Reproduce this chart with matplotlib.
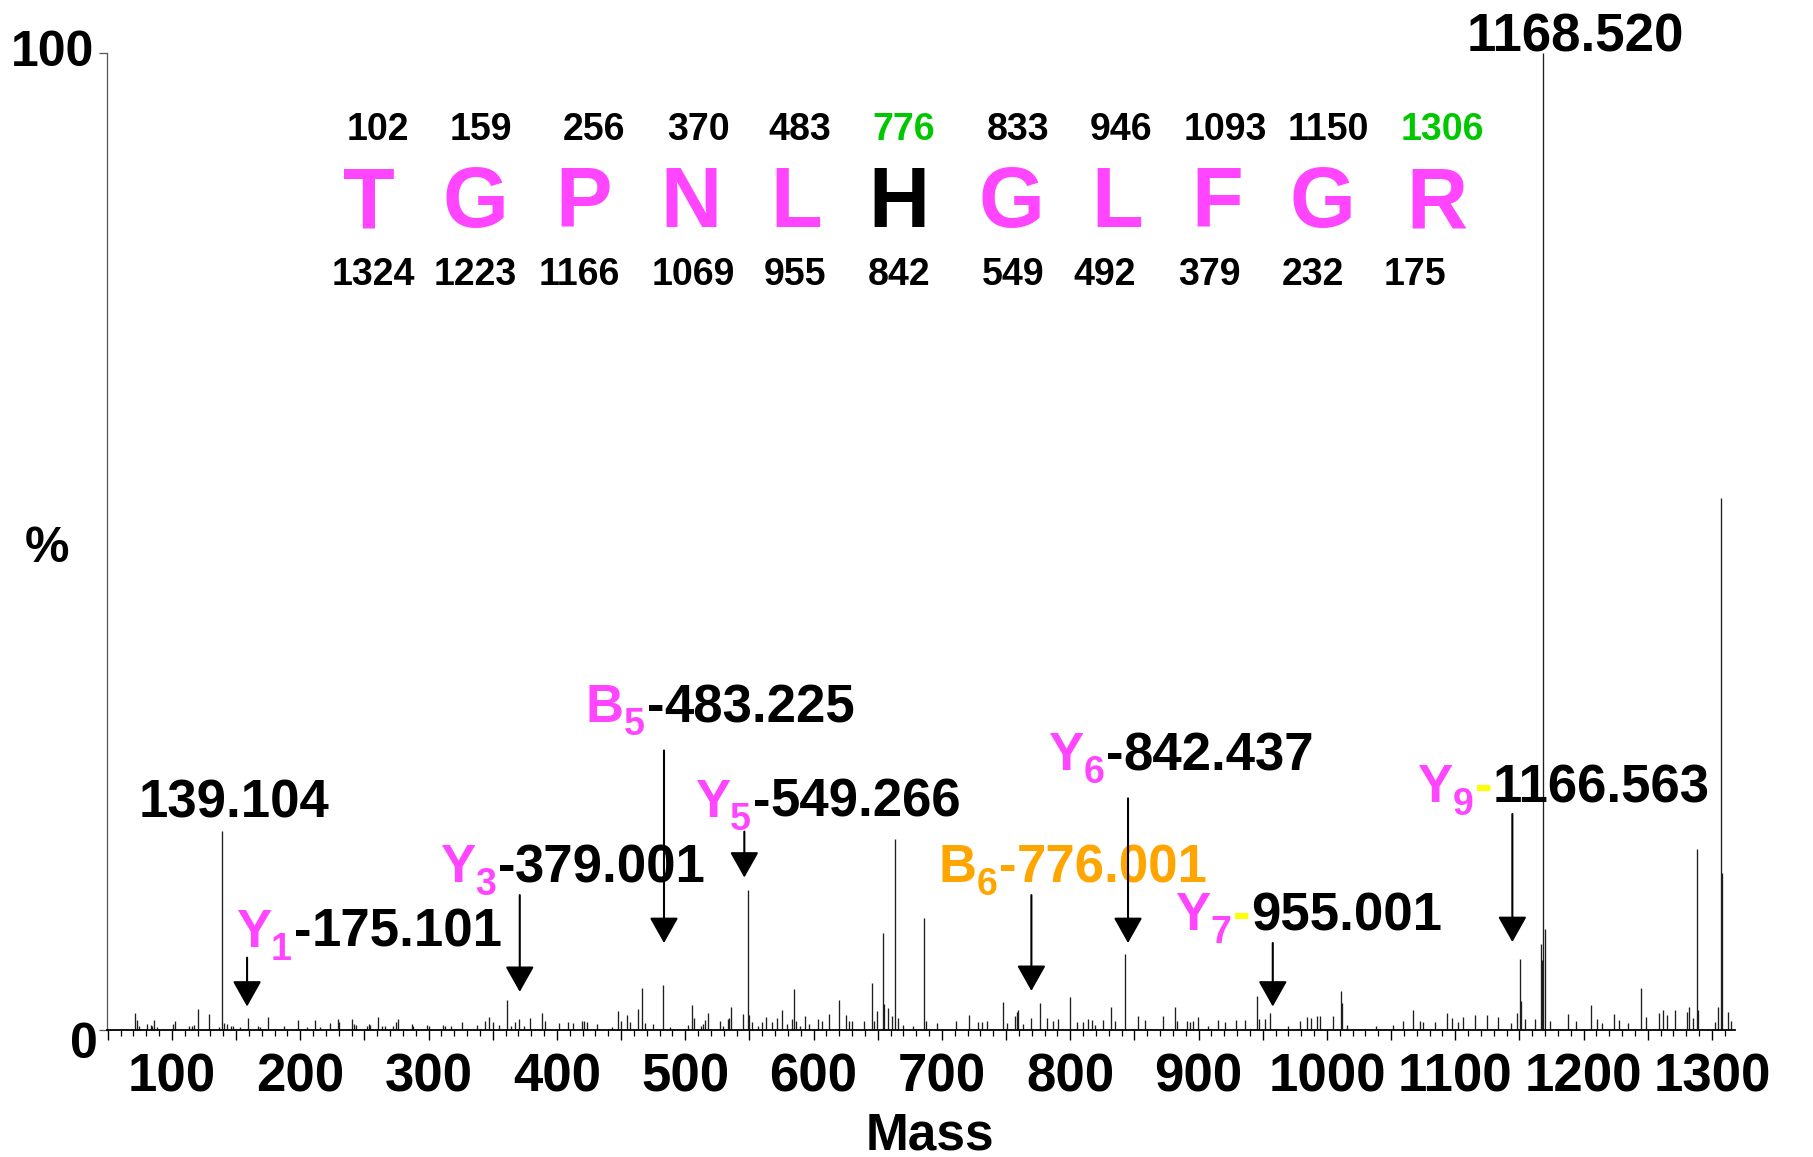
import matplotlib
matplotlib.use('Agg')
import matplotlib.pyplot as plt
from matplotlib import transforms

plt.rcParams['font.family'] = ['Liberation Sans', 'DejaVu Sans']
plt.rcParams['font.weight'] = 'bold'

# MS/MS peak list: m/z and relative intensity (%)
peak_mz = [
    71.2, 73.0, 74.5, 80.3, 83.4, 84.4, 86.2, 88.1, 100.5, 102.0, 113.5, 115.6, 117.1, 120.0, 129.0,
    136.9, 139.1, 140.5, 142.6, 145.7, 147.8, 153.0, 159.0, 167.3, 168.6, 175.0, 187.3, 198.5, 205.0,
    211.4, 215.3, 223.1, 229.0, 230.4, 240.0, 242.1, 243.4, 251.7, 253.3, 254.3, 260.8, 263.4, 266.0,
    272.5, 274.5, 275.9, 286.8, 288.0, 298.5, 300.0,
    311.4, 312.7, 317.2, 326.2, 337.4, 343.9, 347.3, 349.9, 354.8, 361.3, 364.2, 367.3, 370.7, 374.3,
    379.0, 388.3, 390.4, 401.8, 408.8, 412.2, 419.2, 421.0, 423.1, 430.9, 442.6, 447.8, 449.9, 454.8,
    456.9, 462.9, 466.0, 468.6, 475.1, 482.9, 488.1, 501.8, 505.4, 507.0, 512.0, 514.0, 515.3, 517.9,
    527.0, 529.6, 533.0, 534.3, 535.6, 545.2, 549.1, 550.0, 551.7, 556.9, 559.5, 562.5,
    567.3, 571.7, 575.1, 579.0, 583.4, 584.4, 586.2, 589.4, 593.3, 596.6, 603.6, 606.3, 612.2, 620.0,
    625.2, 627.8, 629.6, 639.2, 645.5, 647.0, 649.1, 654.1, 654.8, 658.3, 660.8, 663.2, 666.0, 669.9,
    677.7, 686.3, 687.3, 695.9, 710.9, 721.4, 728.3, 730.9, 734.8, 747.7, 750.9, 756.9, 758.2, 759.6,
    763.4, 769.2, 776.4, 781.6, 786.8, 790.6, 799.8, 805.0, 810.1, 814.0, 816.7,
    819.2, 825.2, 831.7, 834.8, 842.6, 853.0, 858.2, 872.5, 881.3, 883.4, 890.7, 893.3, 895.8, 899.7,
    907.5, 915.3, 920.5, 928.9, 936.1, 945.2, 947.3, 951.7, 955.6, 969.9, 979.0, 984.2, 987.3, 992.0,
    994.6, 1004.4, 1010.7, 1011.6, 1015.3, 1038.2, 1051.7, 1059.0, 1067.3, 1072.5,
    1075.1, 1084.2, 1093.3, 1097.2, 1102.3, 1106.2, 1115.3, 1124.4, 1133.5, 1143.2, 1147.8, 1150.4,
    1151.2, 1154.3, 1162.1, 1166.8, 1167.6, 1168.5, 1169.8, 1173.8, 1188.1, 1194.0, 1205.5, 1210.2,
    1214.1, 1223.6, 1227.8, 1234.8, 1244.4, 1248.6, 1258.4, 1262.1, 1264.7, 1271.1, 1280.3, 1282.3,
    1285.5, 1288.5, 1289.4, 1302.4, 1304.9, 1306.8, 1307.8, 1312.7, 1314.6,
]
peak_int = [
    1.7, 1.0, 0.4, 0.6, 0.5, 0.45, 1.0, 0.3, 0.6, 0.95, 0.4, 0.45, 0.55, 2.1, 1.6,
    0.3, 20.4, 0.75, 0.6, 0.45, 0.4, 0.3, 1.2, 0.4, 0.3, 1.3, 0.45, 1.0, 0.3,
    1.0, 0.3, 0.7, 1.1, 0.8, 1.1, 0.6, 0.55, 0.4, 0.6, 0.5, 1.3, 0.45, 0.45,
    0.45, 0.8, 1.1, 0.6, 0.45, 0.55, 0.45,
    0.55, 0.45, 0.4, 0.85, 0.5, 0.9, 1.3, 0.8, 0.5, 3.1, 0.45, 0.8, 1.1, 0.45,
    1.2, 1.7, 0.9, 0.7, 0.8, 0.7, 0.95, 0.95, 0.8, 0.6, 0.3, 1.9, 0.9, 1.5,
    0.8, 2.1, 4.3, 0.7, 0.6, 4.6, 0.3, 0.55, 2.6, 1.2, 0.45, 0.6, 1.0, 1.7,
    0.9, 0.45, 1.1, 1.2, 2.4, 1.6, 14.3, 1.5, 0.8, 0.45, 0.8, 1.3,
    0.8, 1.2, 2.0, 0.6, 1.1, 4.2, 0.9, 0.45, 1.4, 0.6, 1.1, 0.9, 1.6, 3.1,
    1.5, 0.9, 0.9, 0.95, 4.8, 0.9, 1.9, 9.9, 2.7, 2.25, 1.4, 19.5, 1.2, 0.5,
    0.45, 11.5, 0.9, 0.7, 0.95, 1.5, 0.8, 0.8, 0.9, 2.9, 0.7, 1.4, 1.8, 2.0,
    0.6, 1.2, 2.8, 1.2, 0.9, 1.1, 3.4, 0.8, 0.8, 1.1, 1.0,
    0.55, 1.0, 2.4, 0.9, 7.8, 1.4, 1.0, 1.4, 2.4, 0.9, 0.9, 0.8, 0.9, 1.3,
    0.45, 1.0, 0.8, 1.0, 1.0, 3.5, 1.1, 1.1, 1.7, 0.45, 0.95, 1.3, 1.2, 1.4,
    1.4, 1.4, 4.0, 2.8, 0.55, 0.45, 0.55, 0.9, 2.0, 0.9,
    0.8, 0.8, 1.7, 1.2, 0.8, 1.3, 1.5, 1.5, 1.3, 0.7, 1.7, 7.3,
    3.0, 1.1, 1.1, 8.8, 7.2, 100.0, 10.3, 0.95, 1.6, 0.9, 2.6, 1.1,
    0.7, 1.6, 1.0, 0.7, 4.3, 1.3, 1.7, 2.0, 1.5, 2.0, 1.8, 2.4,
    1.2, 18.5, 2.0, 0.8, 2.4, 54.4, 16.1, 1.8, 0.95,
]

# peptide sequence with b- and y-ion ladders
residues = ['T', 'G', 'P', 'N', 'L', 'H', 'G', 'L', 'F', 'G', 'R']
b_ladder = [102, 159, 256, 370, 483, 776, 833, 946, 1093, 1150, 1306]
y_ladder = [1324, 1223, 1166, 1069, 955, 842, 549, 492, 379, 232, 175]

# annotated fragment ions: (ion type, index, observed m/z text)
ion_types = ['Y', 'Y', 'B', 'Y', 'B', 'Y', 'Y', 'Y']
ion_index = ['1', '3', '5', '5', '6', '6', '7', '9']
ion_mz = ['175.101', '379.001', '483.225', '549.266', '776.001', '842.437', '955.001', '1166.563']

MAGENTA = '#FF45FF'
GREEN = '#00C800'
ORANGE = '#FFA500'
YELLOW = '#FFFF00'
W, H = 1813, 1157

fig = plt.figure(figsize=(W / 100, H / 100), dpi=100)
ax = fig.add_axes([107 / W, 1 - 1030 / H, (1735 - 107) / W, (1030 - 52.7) / H])
ax.set_xlim(49.35, 1318)
ax.set_ylim(0, 100)

ax.vlines(peak_mz, 0, peak_int, colors='#1e1e1e', lw=0.95)

for s in ('top', 'right'):
    ax.spines[s].set_visible(False)
ax.spines['left'].set_color('#555555')
ax.spines['left'].set_linewidth(0.9)
ax.spines['bottom'].set_linewidth(1.3)

major = list(range(50, 1301, 50))
ax.set_xticks(major, [str(v) if v % 100 == 0 else '' for v in major])
ax.set_xticks(list(range(50, 1320, 10)), minor=True)
ax.tick_params(axis='x', which='major', length=7, width=1.0, labelsize=38, pad=9)
ax.tick_params(axis='x', which='minor', length=4, width=0.9)
ax.set_yticks([0, 100], ['0', '100'])
ax.tick_params(axis='y', length=5.5, width=0.9, color='#555555', labelsize=36, pad=4)
ylabels = ax.get_yticklabels()
ylabels[0].set_transform(ylabels[0].get_transform() +
                         transforms.ScaledTranslation(4 / 100, -10 / 100, fig.dpi_scale_trans))
ylabels[1].set_transform(ylabels[1].get_transform() +
                         transforms.ScaledTranslation(0, 4.7 / 100, fig.dpi_scale_trans))

fig.text(47 / W, 1 - 549 / H, '%', ha='center', va='center', fontsize=36)
fig.text(929.5 / W, 1 - 1149 / H, 'Mass', ha='center', va='baseline', fontsize=37)

# sequence ladder above the spectrum (pixel positions)
seq_px = [369, 475, 584, 691, 796.5, 899, 1011, 1117.5, 1217, 1322, 1436.6]
b_px = [378, 481, 594, 698, 800, 904, 1018.5, 1121, 1225, 1328, 1442]
y_px = [373, 475.5, 579, 693, 795, 899, 1013, 1105, 1209, 1312.5, 1415]
for aa, b, yv, xs, xb, xy in zip(residues, b_ladder, y_ladder, seq_px, b_px, y_px):
    fig.text(xb / W, 1 - 140 / H, str(b), ha='center', va='baseline', fontsize=27,
             color=GREEN if b in (776, 1306) else 'black')
    fig.text(xs / W, 1 - 227 / H, aa, ha='center', va='baseline', fontsize=61,
             color='black' if aa == 'H' else MAGENTA)
    fig.text(xy / W, 1 - 285 / H, str(yv), ha='center', va='baseline', fontsize=27)

# labels for the two unassigned peaks
ax.text(74.3, 21.7, '139.104', fontsize=38, ha='left', va='baseline')
ax.text(1109, 100.1, '1168.520', fontsize=38, ha='left', va='baseline', clip_on=False)

# fragment ion labels: left edge (m/z) and baseline (%)
label_x = [149.6, 308.6, 422.6, 507.4, 697.4, 782.6, 881.9, 1070.4]
label_y = [8.5, 15.1, 31.5, 21.8, 15.1, 26.6, 10.2, 23.3]
renderer = fig.canvas.get_renderer()


def ion_label(x, y, parts):
    dx = 0
    for text, color, size, dy, gap in parts:
        tr = transforms.offset_copy(ax.transData, fig=fig, x=dx, y=dy, units='dots')
        t = ax.text(x, y, text, color=color, fontsize=size, transform=tr,
                    ha='left', va='baseline', clip_on=False)
        dx += t.get_window_extent(renderer).width + gap


for kind, idx, mz, x, y in zip(ion_types, ion_index, ion_mz, label_x, label_y):
    head = ORANGE if kind == 'B' and idx == '6' else MAGENTA
    tail = ORANGE if head == ORANGE else 'black'
    dash = YELLOW if idx in ('7', '9') else tail
    ion_label(x, y, [(kind, head, 38, 0, 0),
                     (idx, head, 27, -13, 2),
                     ('-', dash, 38, 0, 0),
                     (mz, tail, 38, 0, 0)])

# arrows: x (m/z), tail and head height (%)
arrow_x = [158.5, 371, 483.4, 546, 769.7, 845, 957.8, 1144.5]
arrow_top = [7.4, 13.8, 28.6, 20.3, 13.8, 23.7, 8.9, 22.1]
arrow_tip = [2.4, 3.9, 8.9, 15.6, 4.0, 8.9, 2.4, 9.0]
for x, y0, y1 in zip(arrow_x, arrow_top, arrow_tip):
    ax.annotate('', xy=(x, y1), xytext=(x, y0),
                arrowprops=dict(arrowstyle='-|>,head_length=0.8,head_width=0.45',
                                mutation_scale=20, lw=1.5, color='black',
                                shrinkA=0, shrinkB=0))

fig.savefig('out.png', dpi=100)
